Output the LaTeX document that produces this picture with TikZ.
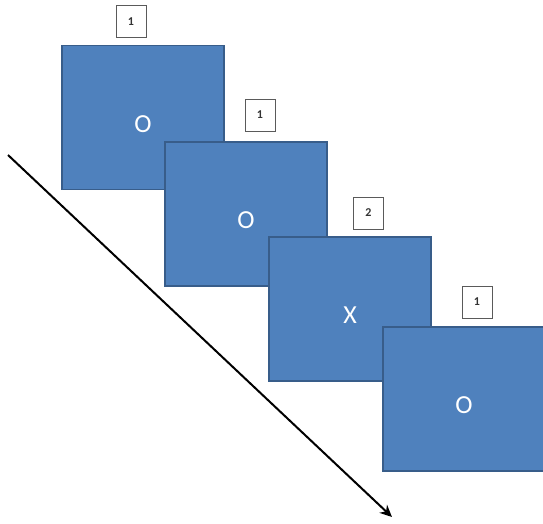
\documentclass[tikz,border=0pt]{standalone}
\usepackage{fontspec}
\setmainfont{Carlito}
\definecolor{boxblue}{RGB}{79,129,189}
\definecolor{boxedge}{RGB}{56,93,138}
\definecolor{tagedge}{RGB}{90,90,90}
\usetikzlibrary{arrows.meta}
\begin{document}
\begin{tikzpicture}[x=1pt,y=-1pt,
  card/.style={draw=boxedge,line width=1.2pt,fill=boxblue,minimum width=162pt,minimum height=144pt,inner sep=0pt},
  cardtext/.style={text=white,font=\fontsize{26}{26}\selectfont,inner sep=0pt},
  tag/.style={draw=tagedge,line width=0.8pt,fill=white,minimum width=30pt,minimum height=32pt,inner sep=0pt,font=\fontsize{12}{12}\selectfont\bfseries,text=black!80}]
\useasboundingbox (0,0) rectangle (543,523);
\node[card] (b1) at (143,117.5) {};
\node[cardtext] (t1) at (143,124) {O};
\node[card] (b2) at (246,214) {};
\node[cardtext] (t2) at (246,220) {O};
\node[card] (b3) at (350,309) {};
\node[cardtext] (t3) at (350,315) {X};
\node[card] (b4) at (464,399) {};
\node[cardtext] (t4) at (464,405) {O};
\node[tag] (l1) at (131,21.5) {1};
\node[tag] (l2) at (260,115) {1};
\node[tag] (l3) at (368.5,213) {2};
\node[tag] (l4) at (477,302) {1};
\coordinate (a0) at (8,155);
\coordinate (a1) at (392,517);
\draw[line width=2pt,-{Stealth[length=12pt,width=11pt]}] (a0) -- (a1);
\end{tikzpicture}
\end{document}
